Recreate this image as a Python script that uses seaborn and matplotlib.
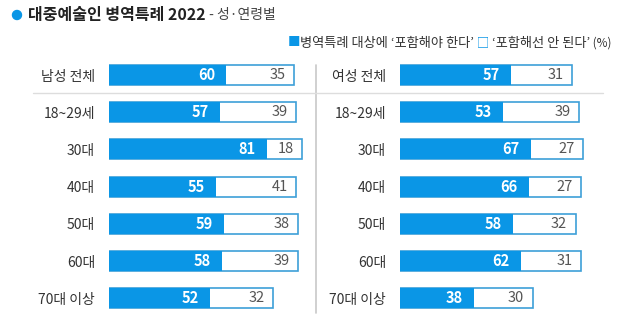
import matplotlib
matplotlib.use('Agg')
import matplotlib.pyplot as plt
from matplotlib.lines import Line2D
from matplotlib.patches import Ellipse
import seaborn as sns
import pandas as pd

# ---- data ----
male_labels = ['남성 전체', '18~29세', '30대', '40대', '50대', '60대', '70대 이상']
female_labels = ['여성 전체', '18~29세', '30대', '40대', '50대', '60대', '70대 이상']
male_yes = [60, 57, 81, 55, 59, 58, 52]
male_no = [35, 39, 18, 41, 38, 39, 32]
female_yes = [57, 53, 67, 66, 58, 62, 38]
female_no = [31, 39, 27, 27, 32, 31, 30]

title_main = '대중예술인 병역특례 2022'
title_sub = ' - 성·연령별'
legend_yes = '병역특례 대상에 ‘포함해야 한다’'
legend_no = '‘포함해선 안 된다’'
legend_unit = ' (%)'

BLUE = '#0A96E6'
EDGE = '#3D9FD8'
GRAY_TXT = '#333333'
NUM_GRAY = '#555555'

sns.set_theme(style='white')
plt.rcParams['font.family'] = ['Noto Sans CJK KR', 'DejaVu Sans']

W, H = 623, 331
fig = plt.figure(figsize=(W / 100, H / 100), dpi=100)
fig.patch.set_facecolor('white')

PX_PER_UNIT = 1.95
AX_W = 205
row_h = 37.2
top = 75 - row_h / 2
height = row_h * 7


def panel(x0, labels, yes, no):
    ax = fig.add_axes([x0 / W, 1 - (top + height) / H, AX_W / W, height / H])
    df = pd.DataFrame({'label': labels,
                       'total': [a + b for a, b in zip(yes, no)],
                       'yes': yes})
    sns.barplot(data=df, y='label', x='total', color='white', saturation=1,
                edgecolor=EDGE, linewidth=1.2, width=0.54, orient='h', ax=ax)
    sns.barplot(data=df, y='label', x='yes', color=BLUE, saturation=1,
                linewidth=0, width=0.54, orient='h', ax=ax)
    ax.set_xlim(0, AX_W / PX_PER_UNIT)
    ax.set_ylim(6.5, -0.5)
    ax.set_xlabel('')
    ax.set_ylabel('')
    ax.set_xticks([])
    for s in ax.spines.values():
        s.set_visible(False)
    ax.tick_params(axis='y', length=0, pad=10, labelsize=10, labelcolor=GRAY_TXT)
    ax.set_facecolor('none')
    for i, (a, b) in enumerate(zip(yes, no)):
        ax.annotate(str(a), xy=(a, i), xytext=(-8, 0), textcoords='offset points',
                    ha='right', va='center', color='white', fontweight='bold', fontsize=10.5)
        ax.annotate(str(b), xy=(a + b, i), xytext=(-6, 0), textcoords='offset points',
                    ha='right', va='center', color=NUM_GRAY, fontsize=10.5)
    return ax


panel(109, male_labels, male_yes, male_no)
panel(400, female_labels, female_yes, female_no)

# separators
fig.add_artist(Line2D([316 / W, 316 / W], [1 - 65 / H, 1 - 313 / H],
                      transform=fig.transFigure, color='#c8c8c8', lw=1.2))
fig.add_artist(Line2D([33 / W, 603 / W], [1 - 93 / H, 1 - 93 / H],
                      transform=fig.transFigure, color='#dddddd', lw=1))

# title
fig.add_artist(Ellipse((17 / W, 1 - 15 / H), 9 / W, 9 / H,
                       transform=fig.transFigure, color=BLUE))
renderer = fig.canvas.get_renderer()


def place(pieces, x, y, ha='left'):
    texts = []
    for s, kw in pieces:
        t = fig.text(0, 0, s, va='center', **kw)
        texts.append(t)
    widths = [t.get_window_extent(renderer).width for t in texts]
    total = sum(widths)
    cx = x if ha == 'left' else x - total
    for t, w in zip(texts, widths):
        t.set_x(cx / W)
        t.set_y(1 - y / H)
        cx += w


place([(title_main, dict(fontsize=11.5, fontweight='bold', color='#222222')),
       (title_sub, dict(fontsize=10, color='#444444'))], 28, 15)

place([('■', dict(fontsize=9, color=BLUE)),
       (legend_yes, dict(fontsize=9.5, color=GRAY_TXT)),
       (' □ ', dict(fontsize=9, color=BLUE)),
       (legend_no, dict(fontsize=9.5, color=GRAY_TXT)),
       (legend_unit, dict(fontsize=8.5, color=GRAY_TXT))], 612, 43, ha='right')

fig.savefig('out.png', dpi=100, facecolor='white')
